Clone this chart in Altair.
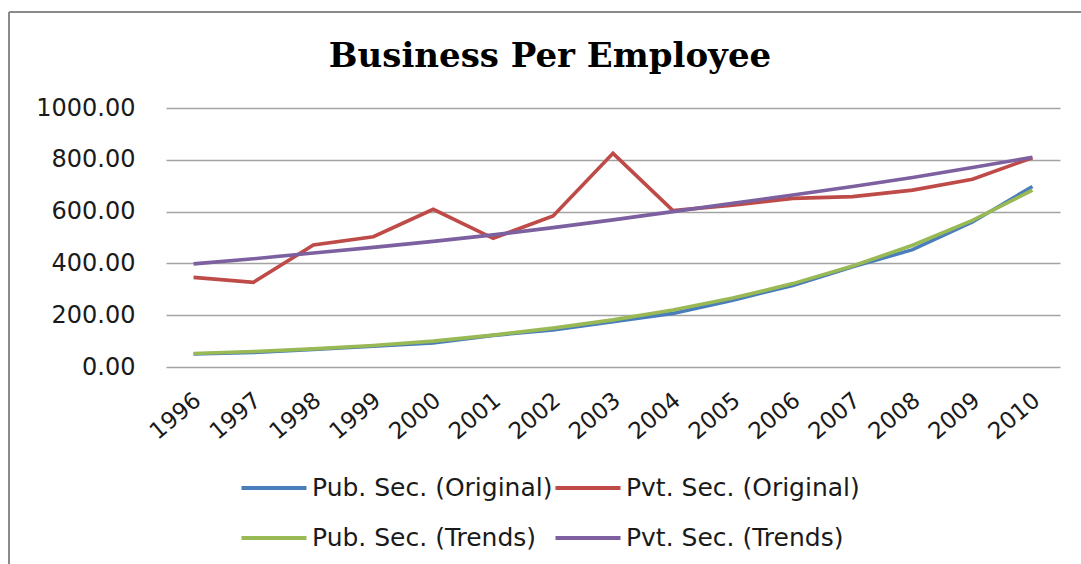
import altair as alt
import pandas as pd

# Business per employee, public vs private sector banks, 1996-2010
years = [str(y) for y in range(1996, 2011)]
pub_original = [50, 56, 68, 80, 93, 122, 143, 175, 207, 258, 315, 387, 453, 560, 697]
pvt_original = [346, 327, 471, 503, 609, 497, 583, 825, 604, 625, 651, 658, 683, 725, 808]
pub_trends = [52, 60, 70, 83, 100, 123, 150, 182, 220, 266, 322, 390, 470, 566, 683]
pvt_trends = [398, 418, 440, 462, 485, 510, 538, 568, 600, 632, 664, 697, 732, 770, 810]

series_names = ["Pub. Sec. (Original)", "Pvt. Sec. (Original)",
                "Pub. Sec. (Trends)", "Pvt. Sec. (Trends)"]
series_values = [pub_original, pvt_original, pub_trends, pvt_trends]
series_colors = ["#4a7ebb", "#be4b48", "#98b954", "#7d60a0"]

rows = []
for name, vals in zip(series_names, series_values):
    for yr, v in zip(years, vals):
        rows.append({"Year": yr, "Value": v, "Series": name})
df = pd.DataFrame(rows)

PLOT_W, PLOT_H = 894, 259
PAD_L, PAD_T = 166, 108
TOTAL_W, TOTAL_H = 1081, 564

lines = alt.Chart(df).mark_line(strokeWidth=3.6).encode(
    x=alt.X("Year:O", title=None, sort=years,
            scale=alt.Scale(type="point", padding=0.46),
            axis=alt.Axis(labelAngle=-40, labelAlign="right", labelBaseline="middle",
                          labelPadding=30, labelOffset=4, ticks=False, domain=False,
                          labelFont="DejaVu Sans", labelFontSize=23, labelColor="#1a1a1a")),
    y=alt.Y("Value:Q", title=None,
            scale=alt.Scale(domain=[0, 1000], nice=False),
            axis=alt.Axis(values=[0, 200, 400, 600, 800, 1000], format=".2f",
                          ticks=False, domain=False, labelPadding=31,
                          labelFont="DejaVu Sans", labelFontSize=24, labelColor="#1a1a1a",
                          grid=True, gridColor="#a3a3a3", gridWidth=1.6)),
    color=alt.Color("Series:N",
                    scale=alt.Scale(domain=series_names, range=series_colors),
                    legend=alt.Legend(title=None, orient="none", legendX=95, legendY=367,
                                      values=series_names, direction="horizontal",
                                      columns=2, columnPadding=-6, rowPadding=24,
                                      symbolType="M-3,0H3", symbolSize=470,
                                      symbolStrokeWidth=4, symbolOffset=0,
                                      labelFont="DejaVu Sans", labelFontSize=25,
                                      labelColor="#1a1a1a", labelOffset=25,
                                      labelLimit=400)),
)

# outer chart frame (left and top edges)
frame_src = pd.DataFrame({"k": [0]})
frame_left = alt.Chart(frame_src).mark_rule(color="#8a8a8a", strokeWidth=2).encode(
    x=alt.value(9 - PAD_L), y=alt.value(12 - PAD_T), y2=alt.value(TOTAL_H - PAD_T))
frame_top = alt.Chart(frame_src).mark_rule(color="#8a8a8a", strokeWidth=2).encode(
    x=alt.value(9 - PAD_L), x2=alt.value(TOTAL_W - PAD_L), y=alt.value(12 - PAD_T))

chart = alt.layer(lines, frame_left, frame_top).properties(
    width=PLOT_W, height=PLOT_H,
    title=alt.TitleParams("Business Per Employee", font="DejaVu Serif", fontSize=34,
                          fontWeight="bold", color="#000000", anchor="middle",
                          dx=-63, dy=81, offset=18),
    autosize=alt.AutoSizeParams(type="none"),
    padding={"left": PAD_L, "top": PAD_T, "right": TOTAL_W - PAD_L - PLOT_W,
             "bottom": TOTAL_H - PAD_T - PLOT_H},
    background="white",
).configure_view(stroke=None)

chart.save("out.html", embed_options={"renderer": "svg", "actions": False})
